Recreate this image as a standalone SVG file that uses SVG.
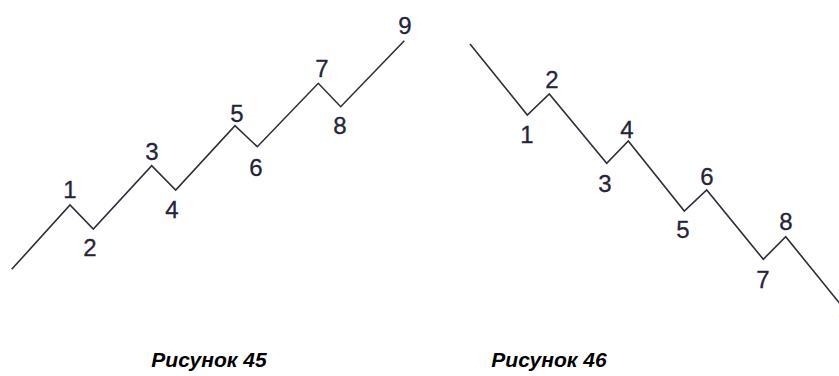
<svg xmlns="http://www.w3.org/2000/svg" width="839" height="376" viewBox="0 0 839 376">
  <style>
    .wave { fill: none; stroke: #2e2e3a; stroke-width: 1.6; stroke-linejoin: miter; stroke-linecap: butt; }
    .num { font-family: "Liberation Sans", "DejaVu Sans", sans-serif; font-size: 24px; fill: #24243a; stroke: #24243a; stroke-width: 0.3; text-anchor: middle; }
    .cap { font-family: "Liberation Sans", Arial, sans-serif; font-size: 21px; font-weight: bold; font-style: italic; fill: #000; text-anchor: middle; }
  </style>
  <rect width="839" height="376" fill="#fff"/>

  <!-- Figure 45: rising wave -->
  <g id="fig45">
    <g id="fig45-connectors">
      <polyline class="wave" points="11.7,269.3 70,205 93.3,229 151.7,165.7 175.7,190 235,125.7 257.3,146.7 318.3,83.3 340.7,106.7 404.3,40.7"/>
    </g>
    <g id="fig45-p1"><text class="num" x="70" y="198">1</text></g>
    <g id="fig45-p2"><text class="num" x="90" y="256">2</text></g>
    <g id="fig45-p3"><text class="num" x="152" y="160">3</text></g>
    <g id="fig45-p4"><text class="num" x="172" y="218">4</text></g>
    <g id="fig45-p5"><text class="num" x="237" y="122">5</text></g>
    <g id="fig45-p6"><text class="num" x="256" y="176">6</text></g>
    <g id="fig45-p7"><text class="num" x="322" y="77">7</text></g>
    <g id="fig45-p8"><text class="num" x="340" y="134">8</text></g>
    <g id="fig45-p9"><text class="num" x="405" y="34">9</text></g>
    <text class="cap" x="209" y="367">Рисунок 45</text>
  </g>

  <!-- Figure 46: falling wave -->
  <g id="fig46">
    <g id="fig46-connectors">
      <polyline class="wave" points="470,44 527.3,115 549.3,94 606.7,163.3 628.3,141 684.3,211 706.7,190 763.3,259.3 785.7,236.7 845,310"/>
    </g>
    <g id="fig46-p1"><text class="num" x="527" y="143">1</text></g>
    <g id="fig46-p2"><text class="num" x="552" y="88">2</text></g>
    <g id="fig46-p3"><text class="num" x="605" y="192">3</text></g>
    <g id="fig46-p4"><text class="num" x="627" y="138">4</text></g>
    <g id="fig46-p5"><text class="num" x="683" y="238">5</text></g>
    <g id="fig46-p6"><text class="num" x="707" y="185">6</text></g>
    <g id="fig46-p7"><text class="num" x="763" y="288">7</text></g>
    <g id="fig46-p8"><text class="num" x="786" y="230">8</text></g>
    <!-- last label runs past the right edge -->
    <g id="fig46-p9"><text class="num" x="845" y="328">9</text></g>
    <text class="cap" x="549" y="367">Рисунок 46</text>
  </g>
</svg>
